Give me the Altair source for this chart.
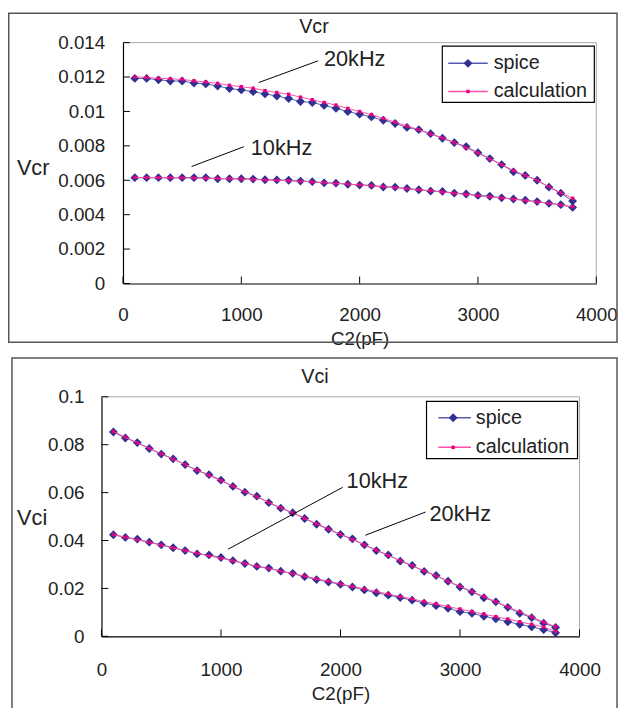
import altair as alt
import pandas as pd

# ---------------- data ----------------
c2_pf = [100, 200, 300, 400, 500, 600, 700, 800, 900, 1000,
         1100, 1200, 1300, 1400, 1500, 1600, 1700, 1800, 1900, 2000,
         2100, 2200, 2300, 2400, 2500, 2600, 2700, 2800, 2900, 3000,
         3100, 3200, 3300, 3400, 3500, 3600, 3700, 3800]

vcr_spice_20k = [0.01192, 0.01192, 0.01184, 0.01177, 0.01177, 0.01165, 0.01160, 0.01148, 0.01133, 0.01125,
                 0.01115, 0.01102, 0.01090, 0.01075, 0.01058, 0.01052, 0.01035, 0.01018, 0.00999, 0.00984,
                 0.00968, 0.00949, 0.00930, 0.00907, 0.00894, 0.00871, 0.00844, 0.00819, 0.00796, 0.00760,
                 0.00726, 0.00691, 0.00649, 0.00628, 0.00600, 0.00560, 0.00525, 0.00479]
vcr_calc_20k = [0.01201, 0.01198, 0.01192, 0.01190, 0.01186, 0.01178, 0.01171, 0.01163, 0.01152, 0.01144,
                0.01135, 0.01121, 0.01110, 0.01100, 0.01083, 0.01068, 0.01052, 0.01037, 0.01018, 0.00999,
                0.00982, 0.00959, 0.00938, 0.00915, 0.00894, 0.00869, 0.00846, 0.00819, 0.00789, 0.00758,
                0.00724, 0.00691, 0.00657, 0.00628, 0.00600, 0.00562, 0.00527, 0.00495]
vcr_spice_10k = [0.00615, 0.00615, 0.00615, 0.00615, 0.00615, 0.00615, 0.00615, 0.00609, 0.00609, 0.00609,
                 0.00607, 0.00603, 0.00602, 0.00600, 0.00595, 0.00592, 0.00585, 0.00583, 0.00577, 0.00572,
                 0.00570, 0.00561, 0.00560, 0.00552, 0.00545, 0.00537, 0.00535, 0.00525, 0.00520, 0.00512,
                 0.00507, 0.00498, 0.00491, 0.00484, 0.00476, 0.00466, 0.00458, 0.00442]
vcr_calc_10k = [0.00616, 0.00616, 0.00615, 0.00615, 0.00614, 0.00613, 0.00612, 0.00610, 0.00609, 0.00607,
                0.00605, 0.00602, 0.00600, 0.00597, 0.00594, 0.00590, 0.00586, 0.00582, 0.00578, 0.00573,
                0.00568, 0.00563, 0.00557, 0.00551, 0.00545, 0.00539, 0.00532, 0.00525, 0.00518, 0.00511,
                0.00504, 0.00497, 0.00490, 0.00482, 0.00474, 0.00466, 0.00457, 0.00446]

vci_spice_20k = [0.0853, 0.0828, 0.0809, 0.0784, 0.0761, 0.0741, 0.0717, 0.0692, 0.0675, 0.0652,
                 0.0626, 0.0602, 0.0585, 0.0558, 0.0535, 0.0516, 0.0492, 0.0468, 0.0447, 0.0425,
                 0.0407, 0.0382, 0.0358, 0.0340, 0.0314, 0.0296, 0.0271, 0.0254, 0.0230, 0.0206,
                 0.0186, 0.0161, 0.0144, 0.0121, 0.0096, 0.0078, 0.0055, 0.0037]
vci_calc_20k = [0.0855, 0.0831, 0.0808, 0.0785, 0.0762, 0.0740, 0.0717, 0.0694, 0.0672, 0.0650,
                0.0627, 0.0604, 0.0582, 0.0559, 0.0537, 0.0515, 0.0493, 0.0470, 0.0448, 0.0426,
                0.0404, 0.0382, 0.0360, 0.0338, 0.0316, 0.0295, 0.0273, 0.0252, 0.0230, 0.0209,
                0.0187, 0.0166, 0.0145, 0.0123, 0.0102, 0.0081, 0.0060, 0.0040]
vci_spice_10k = [0.0424, 0.0413, 0.0406, 0.0393, 0.0382, 0.0370, 0.0358, 0.0344, 0.0340, 0.0329,
                 0.0316, 0.0304, 0.0292, 0.0285, 0.0272, 0.0263, 0.0249, 0.0237, 0.0227, 0.0217,
                 0.0206, 0.0194, 0.0182, 0.0172, 0.0162, 0.0151, 0.0139, 0.0128, 0.0117, 0.0103,
                 0.0096, 0.0084, 0.0073, 0.0061, 0.0050, 0.0040, 0.0028, 0.0015]
vci_calc_10k = [0.0425, 0.0414, 0.0403, 0.0392, 0.0381, 0.0369, 0.0358, 0.0347, 0.0336, 0.0326,
                0.0315, 0.0304, 0.0293, 0.0283, 0.0272, 0.0262, 0.0251, 0.0240, 0.0230, 0.0219,
                0.0208, 0.0198, 0.0187, 0.0177, 0.0166, 0.0156, 0.0145, 0.0135, 0.0124, 0.0114,
                0.0103, 0.0093, 0.0082, 0.0072, 0.0061, 0.0050, 0.0040, 0.0020]

series_names = ["spice", "calculation"]
x_ticks = [0, 1000, 2000, 3000, 4000]
vcr_ticks = [0, 0.002, 0.004, 0.006, 0.008, 0.01, 0.012, 0.014]
vci_ticks = [0, 0.02, 0.04, 0.06, 0.08, 0.1]

# annotation labels: [label, text_x, text_y, line_x1, line_y1, line_x2, line_y2]
vcr_notes = [["20kHz", 1698, 0.01305, 1147, 0.01168, 1648, 0.01294],
             ["10kHz", 1080, 0.00789, 580, 0.00680, 1022, 0.00795]]
vci_notes = [["10kHz", 2051, 0.0647, 1060, 0.0364, 2018, 0.0622],
             ["20kHz", 2745, 0.0511, 2208, 0.0422, 2712, 0.0519]]

# ---------------- style ----------------
W, H = 618, 700
FONT = "Liberation Sans"
TXT = "#222222"
SPICE_LINE = "#5a5ab0"
SPICE_MARK = "#2e3192"
CALC_LINE = "#ff4fa8"
CALC_MARK = "#e6007e"


def long_df(s20, c20, s10, c10):
    rows = []
    for name, freq, vals in [("spice", "20kHz", s20), ("calculation", "20kHz", c20),
                             ("spice", "10kHz", s10), ("calculation", "10kHz", c10)]:
        for x, v in zip(c2_pf, vals):
            rows.append({"C2": x, "V": v, "series": name, "freq": freq})
    return pd.DataFrame(rows)


def one():
    return pd.DataFrame({"k": [0]})


def panel(df, ydom, yticks, xr, yr, title, title_xy, ytitle, ytitle_xy,
          xlab_pad, ylab_pad, xtitle_y, frame, legend, notes):
    xs = alt.Scale(domain=[0, 4000], range=xr, nice=False, zero=False)
    ys = alt.Scale(domain=ydom, range=yr, nice=False, zero=False)

    x_axis = alt.Axis(orient="bottom", offset=yr[0] - H, values=x_ticks, format="d",
                      ticks=False, tickSize=0, grid=False, domainColor="black", domainWidth=1.2,
                      labelFont=FONT, labelFontSize=19, labelColor=TXT, labelPadding=xlab_pad,
                      labelBaseline="middle", labelFlush=False, labelOverlap=False,
                      title="C2(pF)", titleFont=FONT, titleFontSize=19, titleFontWeight="normal",
                      titleColor=TXT, titleX=(xr[0] + xr[1]) / 2, titleY=xtitle_y,
                      titleAlign="center", titleBaseline="middle")
    y_axis = alt.Axis(orient="left", offset=-xr[0], values=yticks, format="~g",
                      ticks=False, tickSize=0, grid=False, domainColor="black", domainWidth=1.2,
                      labelFont=FONT, labelFontSize=19, labelColor=TXT, labelPadding=ylab_pad,
                      labelFlush=False, labelOverlap=False,
                      title=ytitle, titleFont=FONT, titleFontSize=22, titleFontWeight="normal",
                      titleColor=TXT, titleAngle=0, titleX=ytitle_xy[0] - xr[0], titleY=ytitle_xy[1],
                      titleAlign="center", titleBaseline="middle")

    X = lambda f="C2": alt.X(f"{f}:Q", scale=xs, axis=x_axis)
    Y = lambda f="V": alt.Y(f"{f}:Q", scale=ys, axis=y_axis)

    layers = []
    base = alt.Chart(df)
    spice = base.transform_filter(alt.datum.series == "spice")
    calc = base.transform_filter(alt.datum.series == "calculation")
    layers.append(spice.mark_line(color=SPICE_LINE, strokeWidth=1).encode(
        x=X(), y=Y(), detail="freq:N"))
    # outer frame
    layers.append(alt.Chart(one()).mark_rect(fillOpacity=0, stroke="#555555", strokeWidth=1.5).encode(
        x=alt.value(frame[0]), x2=alt.value(frame[1]), y=alt.value(frame[2]), y2=alt.value(frame[3])))
    # plot area border (top, right)
    layers.append(alt.Chart(one()).mark_rule(color="#a8a8a8", strokeWidth=1).encode(
        x=alt.value(xr[0]), x2=alt.value(xr[1]), y=alt.value(yr[1])))
    layers.append(alt.Chart(one()).mark_rule(color="#a8a8a8", strokeWidth=1).encode(
        x=alt.value(xr[1]), y=alt.value(yr[1]), y2=alt.value(yr[0])))

    layers.append(spice.mark_point(shape="diamond", filled=True, size=80, color=SPICE_MARK, opacity=1).encode(
        x=X(), y=Y()))
    layers.append(calc.mark_line(color=CALC_LINE, strokeWidth=1).encode(x=X(), y=Y(), detail="freq:N"))
    layers.append(calc.mark_square(size=12, color=CALC_MARK, opacity=1).encode(x=X(), y=Y()))

    # inward ticks
    layers.append(alt.Chart(pd.DataFrame({"t": yticks})).mark_rule(color="black", strokeWidth=1).encode(
        y=Y("t"), x=alt.value(xr[0]), x2=alt.value(xr[0] + 7)))
    layers.append(alt.Chart(pd.DataFrame({"t": x_ticks})).mark_rule(color="black", strokeWidth=1).encode(
        x=X("t"), y=alt.value(yr[0] - 7), y2=alt.value(yr[0])))

    # annotations
    ndf = pd.DataFrame(notes, columns=["label", "tx", "ty", "x1", "y1", "x2", "y2"])
    layers.append(alt.Chart(ndf).mark_rule(color="black", strokeWidth=1).encode(
        x=X("x1"), y=Y("y1"), x2="x2:Q", y2="y2:Q"))
    layers.append(alt.Chart(ndf).mark_text(align="left", baseline="middle", font=FONT, fontSize=22,
                                           color=TXT).encode(x=X("tx"), y=Y("ty"), text="label:N"))

    # chart title
    layers.append(alt.Chart(pd.DataFrame({"t": [title]})).mark_text(
        font=FONT, fontSize=20, color=TXT, align="center", baseline="middle").encode(
        text="t:N", x=alt.value(title_xy[0]), y=alt.value(title_xy[1])))

    # legend
    bx0, bx1, by0, by1, lx0, lx1, mx, tx, rows = legend
    layers.append(alt.Chart(one()).mark_rect(fill="white", stroke="black", strokeWidth=1.2).encode(
        x=alt.value(bx0), x2=alt.value(bx1), y=alt.value(by0), y2=alt.value(by1)))
    ldf = pd.DataFrame({"label": series_names})
    for name, ry in zip(series_names, rows):
        sub = alt.Chart(ldf).transform_filter(alt.datum.label == name)
        lc = SPICE_LINE if name == "spice" else CALC_LINE
        layers.append(sub.mark_rule(color=lc, strokeWidth=1.5).encode(
            x=alt.value(lx0), x2=alt.value(lx1), y=alt.value(ry)))
        if name == "spice":
            layers.append(sub.mark_point(shape="diamond", filled=True, size=80, color=SPICE_MARK,
                                         opacity=1).encode(x=alt.value(mx), y=alt.value(ry)))
        else:
            layers.append(sub.mark_square(size=12, color=CALC_MARK, opacity=1).encode(
                x=alt.value(mx), y=alt.value(ry)))
        layers.append(sub.mark_text(align="left", baseline="middle", font=FONT, fontSize=20,
                                    color=TXT).encode(text="label:N", x=alt.value(tx), y=alt.value(ry)))
    return alt.layer(*layers)


top = panel(long_df(vcr_spice_20k, vcr_calc_20k, vcr_spice_10k, vcr_calc_10k),
            [0, 0.014], vcr_ticks, [116.5, 596], [274.5, 30.5],
            "Vcr", (310, 14.5), "Vcr", (25, 157),
            31.5, 18.5, 56, (0.75, 617, 0.75, 334),
            (440, 594, 34, 91, 446, 486, 466, 492, [51.5, 80]),
            vcr_notes)

bottom = panel(long_df(vci_spice_20k, vci_calc_20k, vci_spice_10k, vci_calc_10k),
               [0, 0.1], vci_ticks, [94.7, 579], [632, 389.3],
               "Vci", (311, 369), "Vci", (24, 512),
               34, 17.7, 57.5, (4, 617, 350, H + 20),
               (424, 577, 394, 452, 436, 469, 451, 474, [410.5, 440.5]),
               vci_notes)

chart = alt.layer(top, bottom).resolve_scale(x="independent", y="independent").properties(
    width=W, height=H, autosize=alt.AutoSizeParams(type="none"), padding=0
).configure(font=FONT).configure_view(strokeWidth=0)

chart.save("out.html", embed_options={"renderer": "svg", "actions": False})
